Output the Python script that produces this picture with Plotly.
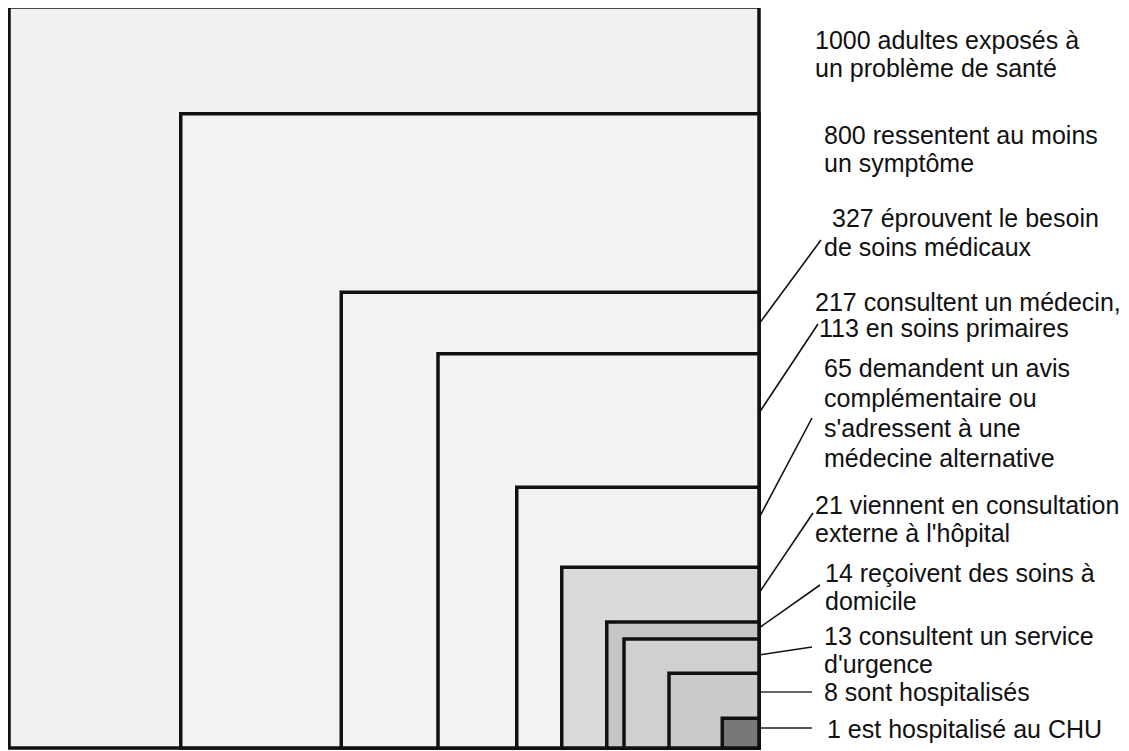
import plotly.graph_objects as go

# ---- data -------------------------------------------------------------
counts = [1000, 800, 327, 217, 65, 21, 14, 13, 8, 1]
# schematic size of each nested rectangle (units, outer = 1000)
rect_w = [1000, 771, 557, 428, 323, 263, 203, 180, 120, 49]
rect_h = [1000, 856, 615, 532, 352, 244, 170, 147, 101, 40]
label_lines = [
    ["1000 adultes exposés à", "un problème de santé"],
    ["800 ressentent au moins", "un symptôme"],
    ["327 éprouvent le besoin", "de soins médicaux"],
    ["217 consultent un médecin,", "113 en soins primaires"],
    ["65 demandent un avis", "complémentaire ou", "s'adressent à une", "médecine alternative"],
    ["21 viennent en consultation", "externe à l'hôpital"],
    ["14 reçoivent des soins à", "domicile"],
    ["13 consultent un service", "d'urgence"],
    ["8 sont hospitalisés"],
    ["1 est hospitalisé au CHU"],
]

# ---- styles / layout ---------------------------------------------------
fills = ["#f1f1f1", "#f3f3f3", "#f3f3f3", "#f3f3f3", "#f2f2f2",
         "#dadada", "#c6c6c6", "#d0d0d0", "#cbcbcb", "#787878"]

OFF = 8                     # page body margin in the browser
W, H = 1129 - OFF, 751 - OFF
X0_PX, X1_PX = 9 - OFF, 759 - OFF      # outer rectangle horizontal pixels
Y0_PX, Y1_PX = 748 - OFF, 7 - OFF      # outer rectangle bottom / top pixels
sx = (X1_PX - X0_PX) / 1000.0
sy = (Y0_PX - Y1_PX) / 1000.0
xr = [-X0_PX / sx, (W - X0_PX) / sx]
yr = [-(H - Y0_PX) / sy, Y0_PX / sy]


def px_x(p):
    return (p - OFF - X0_PX) / sx


def px_y(p):
    return (Y0_PX - (p - OFF)) / sy


fig = go.Figure()
fig.add_trace(go.Scatter(x=[0, 1000], y=[0, 1000], mode="markers",
                         marker=dict(opacity=0), hoverinfo="skip",
                         showlegend=False))

shapes = []
for c, w, h, f in zip(counts, rect_w, rect_h, fills):
    shapes.append(dict(type="rect", xref="x", yref="y",
                       x0=1000 - w, x1=1000, y0=0, y1=h,
                       fillcolor=f, line=dict(color="#111111", width=3.5),
                       layer="below"))

# leader lines (reference pixel positions)
leaders = [
    ((759, 324), (821, 240), "#111111", 1.6),
    ((759, 413), (818, 324), "#111111", 1.6),
    ((759, 518), (812, 418), "#111111", 1.6),
    ((759, 593), (813, 513), "#111111", 1.6),
    ((759, 628), (820, 585), "#111111", 1.6),
    ((759, 655), (812, 647), "#111111", 1.6),
    ((761, 692), (812, 692), "#666666", 2),
    ((761, 728), (812, 728), "#555555", 2),
]
for (a, b, col, lw) in leaders:
    shapes.append(dict(type="line", xref="x", yref="y",
                       x0=px_x(a[0]), y0=px_y(a[1]),
                       x1=px_x(b[0]), y1=px_y(b[1]),
                       line=dict(color=col, width=lw)))

# label line placements (reference pixel x of left edge, y of line centre)
line_pos = [
    [(813, 40), (813, 68)],
    [(822, 135), (822, 163)],
    [(830, 218), (822, 247)],
    [(813, 302), (817, 328)],
    [(822, 368), (822, 398), (822, 428), (822, 458)],
    [(813, 505), (813, 533)],
    [(823, 573), (823, 601)],
    [(822, 636), (822, 664)],
    [(822, 692)],
    [(825, 729)],
]

annotations = []
for lines, poss in zip(label_lines, line_pos):
    for t, (px, py) in zip(lines, poss):
        annotations.append(dict(x=px_x(px), y=px_y(py), xref="x", yref="y",
                                text=t, showarrow=False, xanchor="left",
                                yanchor="middle",
                                font=dict(family="Liberation Sans, Arial, sans-serif",
                                          size=25, color="#111111")))

fig.update_layout(
    width=W, height=H,
    margin=dict(l=0, r=0, t=0, b=0),
    paper_bgcolor="white", plot_bgcolor="white",
    xaxis=dict(range=xr, visible=False, fixedrange=True),
    yaxis=dict(range=yr, visible=False, fixedrange=True),
    shapes=shapes, annotations=annotations,
    showlegend=False,
)

fig.write_html("out.html")
